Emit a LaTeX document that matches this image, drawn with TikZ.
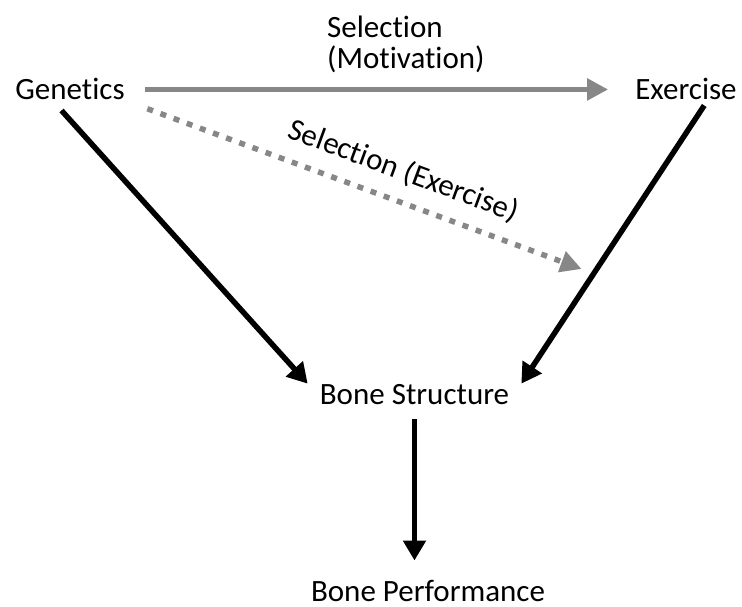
\documentclass[tikz,border=0pt]{standalone}
\usepackage{fontspec}
\setmainfont{Carlito}[Ligatures=NoCommon]
\usetikzlibrary{arrows.meta}
\definecolor{selgray}{RGB}{135,135,135}
\tikzset{
  factor/.style={inner sep=0pt,font=\fontsize{31}{31}\selectfont},
  effect/.style={line width=5.5pt,-{Triangle[length=20pt,width=22pt]}},
  selection/.style={line width=5.5pt,color=selgray,-{Triangle[length=21pt,width=21pt]}},
  selection dashed/.style={selection,dash pattern=on 6pt off 8pt},
}

\begin{document}
\begin{tikzpicture}[x=1pt,y=-1pt]
  \useasboundingbox (0,0) rectangle (742,607);
  \node[factor,anchor=base] (genetics) at (70,100) {Genetics};
  \node[factor,anchor=base] (exercise) at (686,100) {Exercise};
  \node[factor,anchor=base,inner xsep=12pt] (structure) at (414.5,404) {Bone Structure};
  \node[factor,anchor=base] (performance) at (428,601) {Bone Performance};
  \node[factor,anchor=north west,align=left] (motivation) at (327,16) {Selection\\(Motivation)};
  \path (exercise.-27) -- (structure.north east) coordinate[pos=0.611] (target);
  \draw[selection,shorten <=20pt,shorten >=27pt] (genetics.east) -- (exercise.west);
  \draw[selection dashed,shorten <=24pt,shorten >=13pt] (genetics.south east) -- (target)
    node[factor,sloped,above=14pt,pos=0.572,text=black] (exselection) {Selection (Exercise)};
  \draw[effect,shorten <=13.5pt] (genetics.-148) -- (structure.north west);
  \draw[effect,shorten <=6pt] (exercise.-27) -- (structure.north east);
  \draw[effect,shorten <=15pt,shorten >=19pt] (structure.south) -- (structure.south |- performance.north);
\end{tikzpicture}
\end{document}
